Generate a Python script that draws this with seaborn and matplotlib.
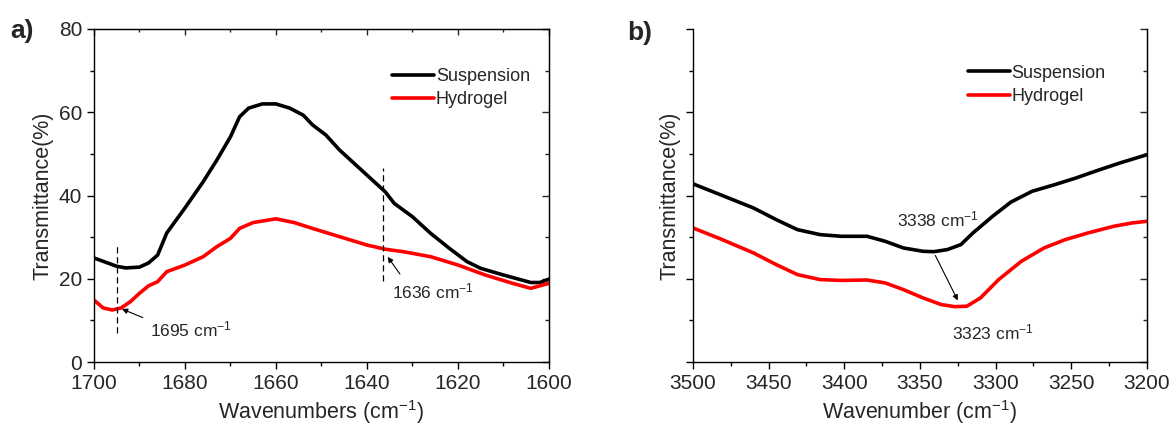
import numpy as np
import pandas as pd
import matplotlib
matplotlib.use("Agg")
import matplotlib.pyplot as plt
from matplotlib.ticker import MultipleLocator
import seaborn as sns

# panel a) amide region, 1700-1600 cm-1
wn_a_susp = [1700, 1697, 1695, 1693, 1690, 1688, 1686, 1684, 1680, 1676, 1673, 1670,
             1668, 1666, 1663, 1660, 1657, 1654, 1652, 1649, 1646, 1642, 1638, 1636,
             1634, 1630, 1626, 1622, 1618, 1615, 1610, 1606, 1604, 1602, 1600]
t_a_susp = [25.0, 23.8, 23.0, 22.6, 22.8, 23.8, 25.7, 31.0, 37.0, 43.3, 48.5, 54.1,
            58.9, 61.0, 62.0, 62.0, 61.0, 59.3, 57.0, 54.5, 50.9, 46.9, 42.9, 40.9,
            38.1, 34.9, 30.9, 27.4, 24.1, 22.5, 20.9, 19.7, 19.1, 19.1, 19.9]

wn_a_gel = [1700, 1698, 1696, 1694, 1692, 1690, 1688, 1686, 1684, 1680, 1676, 1673,
            1670, 1668, 1665, 1660, 1656, 1652, 1646, 1640, 1636, 1632, 1626, 1620,
            1614, 1608, 1604, 1600]
t_a_gel = [14.9, 13.0, 12.5, 13.0, 14.5, 16.5, 18.3, 19.3, 21.7, 23.3, 25.3, 27.7,
           29.7, 32.1, 33.5, 34.4, 33.5, 32.1, 30.1, 28.1, 27.1, 26.5, 25.3, 23.3,
           20.9, 18.9, 17.7, 18.9]

# panel b) OH/NH region, 3500-3200 cm-1
wn_b_susp = [3500, 3482, 3460, 3445, 3431, 3416, 3402, 3385, 3373, 3361, 3348, 3341,
             3332, 3323, 3315, 3302, 3290, 3276, 3261, 3247, 3232, 3218, 3200]
t_b_susp = [42.8, 40.2, 37.0, 34.2, 31.8, 30.6, 30.2, 30.2, 29.0, 27.4, 26.6, 26.5,
            27.0, 28.2, 31.0, 35.0, 38.4, 41.0, 42.6, 44.2, 46.1, 47.8, 49.8]

wn_b_gel = [3500, 3482, 3460, 3445, 3431, 3416, 3402, 3385, 3373, 3361, 3348, 3336,
            3327, 3319, 3310, 3298, 3283, 3268, 3254, 3239, 3222, 3210, 3200]
t_b_gel = [32.2, 29.6, 26.2, 23.4, 21.0, 19.8, 19.6, 19.7, 19.0, 17.4, 15.4, 13.8,
           13.3, 13.4, 15.4, 19.8, 24.2, 27.4, 29.4, 31.0, 32.6, 33.4, 33.8]

series_names = ["Suspension", "Hydrogel"]
palette = {"Suspension": "black", "Hydrogel": "#ff0000"}


def make_frame(wn_s, t_s, wn_g, t_g):
    return pd.concat([
        pd.DataFrame({"wn": wn_s, "T": t_s, "sample": series_names[0]}),
        pd.DataFrame({"wn": wn_g, "T": t_g, "sample": series_names[1]}),
    ], ignore_index=True)


df_a = make_frame(wn_a_susp, t_a_susp, wn_a_gel, t_a_gel)
df_b = make_frame(wn_b_susp, t_b_susp, wn_b_gel, t_b_gel)

sns.set_style("ticks")
plt.rcParams["font.family"] = ["Liberation Sans", "DejaVu Sans"]
plt.rcParams["mathtext.fontset"] = "custom"
plt.rcParams["mathtext.rm"] = "Liberation Sans"
plt.rcParams["mathtext.it"] = "Liberation Sans:italic"
plt.rcParams["mathtext.default"] = "regular"

fig = plt.figure(figsize=(11.73, 4.38), dpi=100)
ax_a = fig.add_axes([0.0801, 0.1735, 0.3879, 0.7603])
ax_b = fig.add_axes([0.5908, 0.1735, 0.3870, 0.7603])

for ax, df in [(ax_a, df_a), (ax_b, df_b)]:
    sns.lineplot(data=df, x="wn", y="T", hue="sample", palette=palette,
                 linewidth=2.6, sort=False, estimator=None, ax=ax)
    ax.set_ylim(0, 80)
    ax.yaxis.set_major_locator(MultipleLocator(20))
    ax.yaxis.set_minor_locator(MultipleLocator(10))
    ax.set_ylabel("Transmittance(%)", fontsize=15.5)
    ax.tick_params(which="both", labelsize=15, width=1.0, color="black")
    ax.tick_params(which="major", length=5)
    ax.tick_params(which="minor", length=3)
    ax.tick_params(axis="y", which="both", right=True, direction="out")
    for sp in ax.spines.values():
        sp.set_linewidth(1.0)
        sp.set_color("black")
    ax.legend(frameon=False, fontsize=13, handlelength=2.3, handletextpad=0.1,
              labelspacing=0.35, loc="upper left", borderaxespad=0)

# panel a axes
ax_a.set_xlim(1700, 1600)
ax_a.xaxis.set_major_locator(MultipleLocator(20))
ax_a.xaxis.set_minor_locator(MultipleLocator(10))
ax_a.set_xlabel(r"Wavenumbers (cm$^{-1}$)", fontsize=15.5)
ax_a.tick_params(axis="x", which="both", top=True)
ax_a.legend_.set_bbox_to_anchor((0.64, 0.905))

# panel a marker lines and arrows
ax_a.plot([1695, 1695], [7, 28.6], ls=(0, (5, 3)), color="black", lw=0.9)
ax_a.plot([1636.5, 1636.5], [19.5, 46.7], ls=(0, (5, 3)), color="black", lw=0.9)
ax_a.annotate("", xy=(1694.4, 13.0), xytext=(1688.7, 10.4),
              arrowprops=dict(arrowstyle="-|>", color="black", lw=0.8, mutation_scale=8))
ax_a.annotate("", xy=(1635.8, 25.8), xytext=(1632.4, 20.6),
              arrowprops=dict(arrowstyle="-|>", color="black", lw=0.8, mutation_scale=8))
ax_a.text(1687.6, 7.8, r"1695 cm$^{-1}$", fontsize=12.5, va="center", ha="left")
ax_a.text(1634.6, 17.0, r"1636 cm$^{-1}$", fontsize=12.5, va="center", ha="left")

# panel b axes
ax_b.set_xlim(3500, 3200)
ax_b.xaxis.set_major_locator(MultipleLocator(50))
ax_b.xaxis.set_minor_locator(MultipleLocator(25))
ax_b.set_xlabel(r"Wavenumber (cm$^{-1}$)", fontsize=15.5)
ax_b.tick_params(axis="y", which="both", labelleft=False)
ax_b.spines["top"].set_visible(False)
ax_b.legend_.set_bbox_to_anchor((0.59, 0.915))

ax_b.annotate("", xy=(3324.2, 14.2), xytext=(3340.7, 26.2),
              arrowprops=dict(arrowstyle="-|>", color="black", lw=0.8, mutation_scale=8))
ax_b.text(3365, 34.2, r"3338 cm$^{-1}$", fontsize=12.5, va="center", ha="left")
ax_b.text(3329, 7.0, r"3323 cm$^{-1}$", fontsize=12.5, va="center", ha="left")

# right spines carry inward ticks in the original
for ax in (ax_a, ax_b):
    sec = ax.secondary_yaxis("right")
    sec.yaxis.set_major_locator(MultipleLocator(20))
    sec.yaxis.set_minor_locator(MultipleLocator(10))
    sec.tick_params(which="both", direction="in", labelright=False, width=1.0)
    sec.tick_params(which="major", length=5)
    sec.tick_params(which="minor", length=3)
    ax.tick_params(axis="y", which="both", right=False)
    ax.spines["right"].set_linewidth(1.0)
sec_top = ax_a.secondary_xaxis("top")
sec_top.xaxis.set_major_locator(MultipleLocator(20))
sec_top.xaxis.set_minor_locator(MultipleLocator(10))
sec_top.tick_params(which="both", direction="in", labeltop=False, width=1.0)
sec_top.tick_params(which="major", length=4)
sec_top.tick_params(which="minor", length=2)
ax_a.tick_params(axis="x", which="both", top=False)

fig.text(0.009, 0.93, "a)", fontsize=19, fontweight="bold", va="center")
fig.text(0.535, 0.925, "b)", fontsize=19, fontweight="bold", va="center")

fig.savefig("out.png", dpi=100)
